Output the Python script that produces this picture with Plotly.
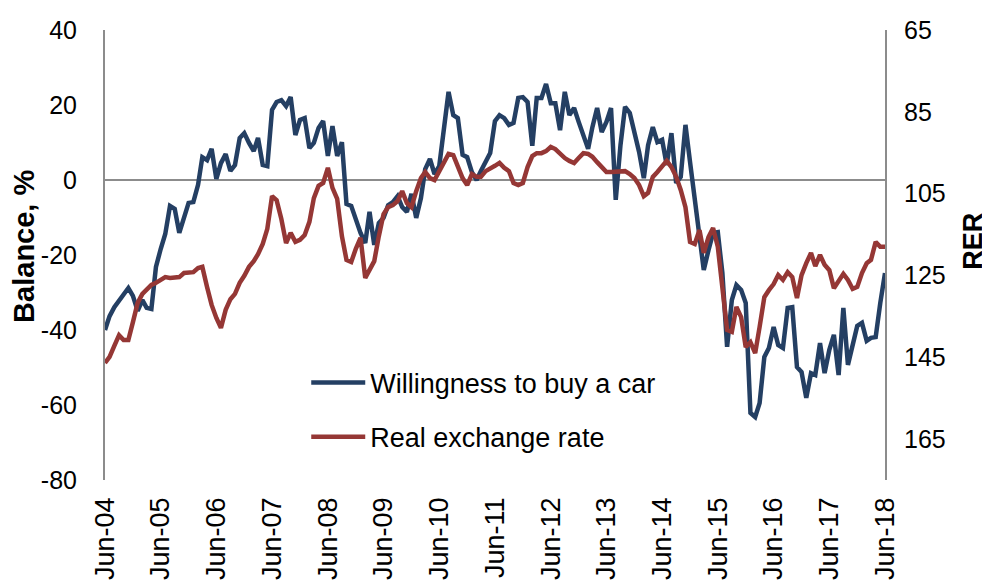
import pandas as pd
import plotly.graph_objects as go

start_month = "2004-06-01"

willingness = [
    -40, -36.3, -33.9, -32.3, -30.7, -28.8, -30.9, -34.9, -32, -34.1,
    -34.4, -23.2, -18.4, -14.4, -6.9, -7.7, -14.1, -9.9, -6.1, -5.9,
    -1.3, 6.1, 5.3, 8.3, 0.3, 4.5, 6.9, 2.4, 4, 11.2,
    12.5, 9.9, 7.7, 11.2, 4, 3.7, 18.7, 20.8, 21.3, 19.7,
    22.1, 12, 16, 16.5, 8.5, 9.9, 13.9, 15.7, 6.4, 14.4,
    6.4, 10.1, -6.4, -6.9, -10.7, -14.1, -16.8, -8.5, -17.3, -11.5,
    -10.1, -6.7, -5.9, -4.3, -7.2, -8.5, -3.7, -10.1, -4.8, 2.9,
    5.6, 1.6, 3.7, 13.6, 23.5, 17.3, 16.5, 6.7, 6.1, 2.1,
    0, 2.4, 4.8, 7.2, 15.7, 17.3, 16.5, 14.7, 15.2, 21.9,
    22.1, 20.8, 9.1, 21.9, 21.9, 25.6, 20.5, 20.5, 13.3, 23.5,
    17.3, 19.2, 15.5, 12, 8.3, 14.1, 19.2, 12.8, 15.5, 19.2,
    -5.3, 9.3, 19.5, 17.9, 12.5, 7.5, 0.5, 9.3, 14.1, 10.1,
    10.7, 4, 12.5, -0.8, 0.8, 14.7, 4.8, -5.3, -13.3, -24,
    -18.7, -14.1, -13.9, -24.8, -44.5, -32, -28, -29.3, -32.8, -62.1,
    -63.2, -59.5, -47.2, -44.8, -39.2, -44, -44.8, -34.1, -33.9, -49.9,
    -51.2, -58.1, -51.5, -52, -43.5, -51.5, -45.3, -41.3, -52, -34.1,
    -49.3, -43.5, -38.9, -38.1, -42.9, -42.1, -41.9, -32.8, -24.8,
]

rer = [
    146.4, 144.9, 142.2, 139.6, 140.8, 140.8, 136.4, 131.7, 129.5, 128.3,
    127.3, 126.8, 126.1, 125.4, 125.6, 125.6, 125.4, 124.4, 124.2, 124.2,
    123.2, 122.9, 127.8, 132.2, 135.4, 137.8, 133.4, 130.8, 129.5, 126.8,
    125.1, 122.9, 121.5, 119.8, 117.3, 113.6, 105.6, 106.6, 111.2, 117.1,
    114.6, 116.8, 116.3, 115.1, 111.9, 106.1, 103.1, 102.4, 98.7, 103.6,
    106.3, 115.4, 121.2, 121.7, 118.5, 115.8, 125.6, 123.9, 121.5, 115.4,
    110, 108.3, 107.8, 106.8, 104.4, 107.3, 108.3, 104.4, 101.2, 99.7,
    101.2, 101.7, 99.5, 97.5, 95.3, 95.6, 98.5, 101.2, 102.9, 100.2,
    100.9, 100.9, 99.5, 99, 98.2, 97.5, 98.7, 99.5, 102.4, 102.9,
    102.4, 98.5, 95.8, 95.1, 95.1, 94.6, 93.6, 94.1, 95.3, 96.3,
    97, 97.5, 96.3, 95.1, 95.3, 96, 97.3, 98.5, 99.7, 99.7,
    99.7, 99.7, 99.5, 100.2, 101.2, 102.9, 105.6, 104.8, 100.9, 99.7,
    98.5, 97, 98.5, 100.9, 104.1, 108.3, 116.8, 117.3, 113.9, 119.5,
    115.6, 113.4, 118, 129.3, 138.3, 138.8, 132.7, 135.2, 142.5, 141.3,
    144, 137.6, 130.3, 128.6, 127.1, 124.9, 126.1, 124.2, 125.4, 130.5,
    124.9, 122, 119.5, 122.7, 120, 122.4, 123.7, 128.1, 126.1, 124.6,
    126.1, 128.3, 127.8, 124.4, 122, 121.2, 116.8, 118, 118,
]

tick_dates = [f"{y}-06-01" for y in range(2004, 2019)]
tick_labels = ["Jun-04", "Jun-05", "Jun-06", "Jun-07", "Jun-08", "Jun-09", "Jun-10",
               "Jun-11", "Jun-12", "Jun-13", "Jun-14", "Jun-15", "Jun-16", "Jun-17", "Jun-18"]
left_ticks = [-80, -60, -40, -20, 0, 20, 40]
left_tick_labels = ["-80", "-60", "-40", "-20", "0", "20", "40"]
right_ticks = [65, 85, 105, 125, 145, 165]
left_title = "Balance, %"
right_title = "RER"

dates = pd.date_range(start=start_month, periods=len(willingness), freq="MS")

BLUE = "#243F63"
RED = "#953735"
GREY = "#8C8C8C"

fig = go.Figure()
fig.add_trace(go.Scatter(
    x=dates, y=willingness, name="Willingness to buy a car", mode="lines",
    line=dict(color=BLUE, width=4.5), legendgroup="a"))
fig.add_trace(go.Scatter(
    x=dates, y=rer[:len(dates)], name="Real exchange rate", mode="lines", yaxis="y2",
    line=dict(color=RED, width=4.5), legendgroup="b"))

fig.update_layout(
    width=990, height=581,
    margin=dict(l=97, r=113, t=22, b=109, autoexpand=False),
    paper_bgcolor="white", plot_bgcolor="white",
    font=dict(family="Liberation Sans, Arial, sans-serif", size=25, color="black"),
    showlegend=True,
    legend=dict(x=0.258, xanchor="left", y=0.27, yanchor="top", itemwidth=54,
                bgcolor="rgba(0,0,0,0)", font=dict(size=27), tracegroupgap=16),
    xaxis=dict(type="date", range=[dates[0], dates[-1]], tickvals=tick_dates,
               ticktext=tick_labels, tickangle=-90, showgrid=False, showline=False,
               zeroline=False, ticks="", ticklabelstandoff=11, automargin=False,
               tickfont=dict(size=27)),
    yaxis=dict(range=[-80, 40], tickvals=left_ticks, ticktext=left_tick_labels,
               showgrid=False, zeroline=True, zerolinecolor=GREY, zerolinewidth=2,
               showline=True, linecolor=GREY, linewidth=2, ticks="",
               ticklabelstandoff=21, automargin=False),
    yaxis2=dict(overlaying="y", side="right", range=[175, 65], tickvals=right_ticks,
                showgrid=False, zeroline=False, showline=True, linecolor=GREY,
                linewidth=2, ticks="", ticklabelstandoff=12, automargin=False),
    annotations=[
        dict(text=f"<b>{left_title}</b>", xref="paper", yref="paper", x=-0.104, y=0.52,
             xanchor="center", yanchor="middle", textangle=-90, showarrow=False,
             font=dict(size=29)),
        dict(text=f"<b>{right_title}</b>", xref="paper", yref="paper", x=1.112, y=0.53,
             xanchor="center", yanchor="middle", textangle=-90, showarrow=False,
             font=dict(size=27)),
    ],
)

fig.write_html("out.html")
